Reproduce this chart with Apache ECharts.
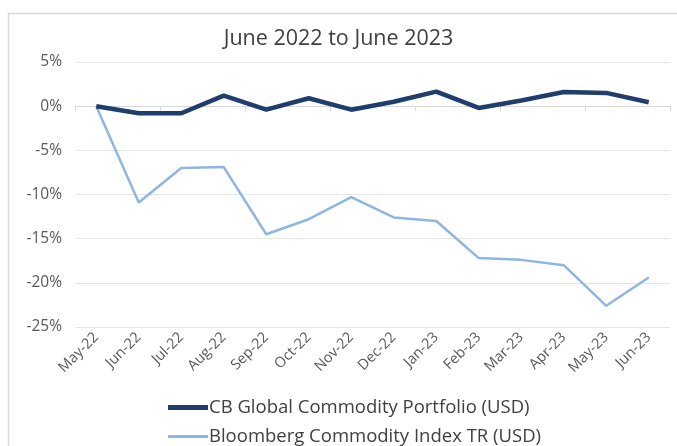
<!DOCTYPE html>
<html><head><meta charset="utf-8">
<script src="https://cdn.jsdelivr.net/npm/echarts@6/dist/echarts.min.js"></script>
<style>html,body{margin:0;padding:0;background:#fff}#c{width:677px;height:446px}</style>
</head><body><div id="c"></div>
<script>
const categories = ['May-22','Jun-22','Jul-22','Aug-22','Sep-22','Oct-22','Nov-22','Dec-22','Jan-23','Feb-23','Mar-23','Apr-23','May-23','Jun-23'];
const cbPortfolio = [0, -0.8, -0.8, 1.2, -0.4, 0.9, -0.4, 0.5, 1.65, -0.2, 0.65, 1.6, 1.5, 0.45];
const bloombergIndex = [0, -10.9, -7.0, -6.9, -14.5, -12.8, -10.3, -12.6, -13.0, -17.2, -17.4, -18.0, -22.6, -19.4];
const seriesNames = ['CB Global Commodity Portfolio (USD)', 'Bloomberg Commodity Index TR (USD)'];
const font = '"Open Sans", sans-serif';
const legendText = {fontFamily: font, fontSize: 18.5, color: '#404040', padding: [0,0,0,-4]};
const chart = echarts.init(document.getElementById('c'));
chart.setOption({
  animation: false,
  textStyle: {fontFamily: font},
  title: {text: 'June 2022 to June 2023', left: 'center', top: 23,
    textStyle: {fontFamily: font, fontSize: 21.5, fontWeight: 'normal', color: '#404040'}},
  graphic: [{type: 'rect', shape: {x: 8.5, y: 13.5, width: 700, height: 500},
    style: {fill: 'none', stroke: '#d9d9d9', lineWidth: 1.5}, silent: true, z: -1}],
  grid: {left: 75, right: 7, top: 62, bottom: 119},
  legend: [
    {left: 168, top: 398, padding: 0, itemWidth: 40, itemHeight: 18, textStyle: legendText,
      data: [{name: seriesNames[0], icon: 'path://M0,0L40,0L40,5L0,5Z'}]},
    {left: 168, top: 427, padding: 0, itemWidth: 40, itemHeight: 18, textStyle: legendText,
      data: [{name: seriesNames[1], icon: 'path://M0,0L40,0L40,3L0,3Z'}]}
  ],
  xAxis: [{type: 'category', data: categories, boundaryGap: true,
      axisLine: {onZero: true, lineStyle: {color: '#d9d9d9'}},
      axisTick: {show: true, length: 5, lineStyle: {color: '#d9d9d9'}},
      axisLabel: {show: false}},
    {type: 'category', data: categories, position: 'bottom', boundaryGap: true,
      axisLine: {show: false, onZero: false}, axisTick: {show: false},
      axisLabel: {rotate: 45, fontSize: 14.5, color: '#595959', fontFamily: font, margin: 8, interval: 0}}],
  yAxis: {type: 'value', min: -25, max: 5, interval: 5,
    axisLine: {show: false}, axisTick: {show: false},
    splitLine: {lineStyle: {color: '#e6e6e6'}},
    axisLabel: {formatter: v => v + '%', fontSize: 15.5, color: '#595959', margin: 13, fontFamily: font}},
  series: [
    {name: seriesNames[0], type: 'line', data: cbPortfolio, symbol: 'none',
      lineStyle: {color: '#1f3d6d', width: 4.5}, itemStyle: {color: '#1f3d6d'}, z: 3},
    {name: seriesNames[1], type: 'line', data: bloombergIndex, symbol: 'none',
      lineStyle: {color: '#8fb6e0', width: 2.5}, itemStyle: {color: '#8fb6e0'}, z: 2}
  ]
});
</script></body></html>
